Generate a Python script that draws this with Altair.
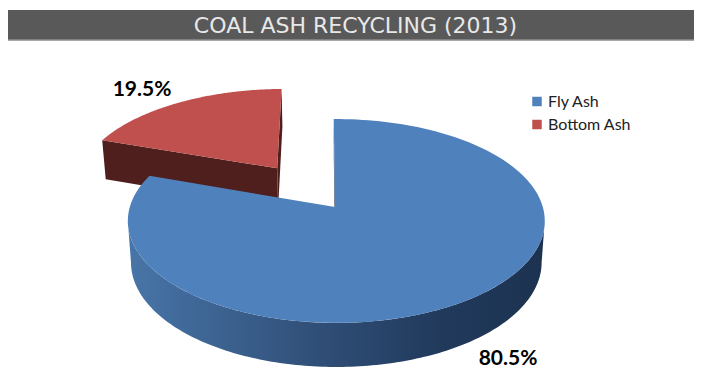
import numpy as np
import altair as alt

title_text = "COAL ASH RECYCLING (2013)"
categories = ["Fly Ash", "Bottom Ash"]
shares = [80.5, 19.5]
colors = ["#4f81bd", "#c0504d"]

# perspective model of the pie, in reference pixels
CX, APEX_Y, BACK_K, PERSP, R = 336.3, 207.0, -71.6, 0.137, 206.5
LOW_SCALE, LOW_H = 0.985, 41.0
START = -0.8
EXPLODE = 0.505
APEX_U = -0.006


def top(u, v):
    w = 1 + PERSP * v
    return CX + R * u / w, (APEX_Y + BACK_K * v) / w


def low(u, v):
    x, y = top(u, v)
    w = 1 + PERSP * v
    return CX + LOW_SCALE * (x - CX), y + LOW_H / np.sqrt(w)


def disc(a):
    t = np.radians(a)
    return np.sin(t), np.cos(t)


def rim(a0, a1, off=(0, 0), n=160):
    a = np.linspace(a0, a1, n)
    u, v = disc(a)
    return u + off[0], v + off[1]


def feature(name, xs, ys):
    ring = [[float(x), float(y)] for x, y in zip(xs, ys)]
    ring.append(ring[0])
    return {"type": "Feature", "properties": {"name": name},
            "geometry": {"type": "Polygon", "coordinates": [ring]}}


def sector_top(name, a0, a1, off=(0, 0), apex=(0, 0)):
    u, v = rim(a0, a1, off)
    x, y = top(np.r_[apex[0], u], np.r_[apex[1], v])
    return feature(name, x, y)


def wall(name, pu, pv):
    pu, pv = np.asarray(pu, float), np.asarray(pv, float)
    xt, yt = top(pu, pv)
    xl, yl = low(pu, pv)
    return feature(name, np.r_[xt, xl[::-1]], np.r_[yt, yl[::-1]])


blue_end = START + shares[0] * 3.6
red_end = START + 360.0
mid = np.radians((blue_end + red_end) / 2)
off = (EXPLODE * np.sin(mid) - 0.006, EXPLODE * np.cos(mid))

edge = np.degrees(np.arccos(-PERSP))
bu, bv = rim(edge, 360 - edge)
u_s, v_s = disc(START)
u_e, v_e = disc(blue_end)

proj = dict(type="identity", scale=1, translate=[-8, -8])


def geo(features, **mark):
    return alt.Chart(alt.Data(values=features)).mark_geoshape(**mark).project(**proj)


def solid(features):
    return geo(features, strokeWidth=0).encode(
        color=alt.Color(
            "properties.name:N",
            scale=alt.Scale(domain=categories, range=colors),
            legend=alt.Legend(
                title=None, orient="none", legendX=521, legendY=85.5,
                symbolType="square", symbolSize=90, symbolStrokeWidth=0,
                labelFont="Lato", labelFontSize=16, labelColor="#222222",
                rowPadding=7, labelOffset=3,
            ),
        )
    )


bar = geo([feature("header", [0, 710, 710, 0], [10, 10, 40, 40])], fill="#595959", strokeWidth=0)
bar_line = geo([feature("rule", [0, 710, 710, 0], [39.5, 39.5, 41, 41])], fill="#a8a8a8", strokeWidth=0)

red_walls = geo([
    wall("Bottom Ash wall", [off[0], off[0] + u_s], [off[1], off[1] + v_s]),
    wall("Bottom Ash wall", [off[0], off[0] + u_e], [off[1], off[1] + v_e]),
], fill="#4f1f1d", strokeWidth=0)
red_top = solid([sector_top(categories[1], blue_end, red_end, off, off)])

blue_wall = geo([wall("Fly Ash wall", bu, bv)], strokeWidth=0, fill=alt.LinearGradient(
    gradient="linear", x1=1, x2=0, y1=0, y2=0,
    stops=[
        alt.GradientStop(offset=0, color="#1c3250"),
        alt.GradientStop(offset=0.25, color="#213a5c"),
        alt.GradientStop(offset=0.55, color="#304f78"),
        alt.GradientStop(offset=1, color="#4875a8"),
    ],
))
blue_inner = geo([wall("Fly Ash wall", [APEX_U, u_s], [0, v_s])], fill="#1c3250", strokeWidth=0)
blue_top = solid([sector_top(categories[0], START, blue_end, apex=(APEX_U, 0))])

title = alt.Chart(alt.Data(values=[{"t": title_text, "x": 355.5, "y": 26.0}])).mark_text(
    font='"DejaVu Sans ExtraLight", "DejaVu Sans"', fontSize=22, color="#e8e8e8", align="center", baseline="middle",
).encode(longitude="x:Q", latitude="y:Q", text="t:N").project(**proj)

labels = alt.Chart(alt.Data(values=[
    {"t": f"{shares[1]}%", "x": 142.0, "y": 90.0},
    {"t": f"{shares[0]}%", "x": 508.0, "y": 358.5},
])).mark_text(
    font="Lato", fontSize=21, fontWeight="bold", color="#000000", align="center", baseline="middle",
).encode(longitude="x:Q", latitude="y:Q", text="t:N").project(**proj)

chart = alt.layer(
    bar, bar_line, red_walls, red_top, blue_wall, blue_inner, blue_top, title, labels
).properties(
    width=686, height=360, padding=0, autosize=alt.AutoSizeParams(type="none"),
    background="white",
).configure_view(stroke=None)

chart.save("out.html", embed_options={"renderer": "svg", "actions": False})
